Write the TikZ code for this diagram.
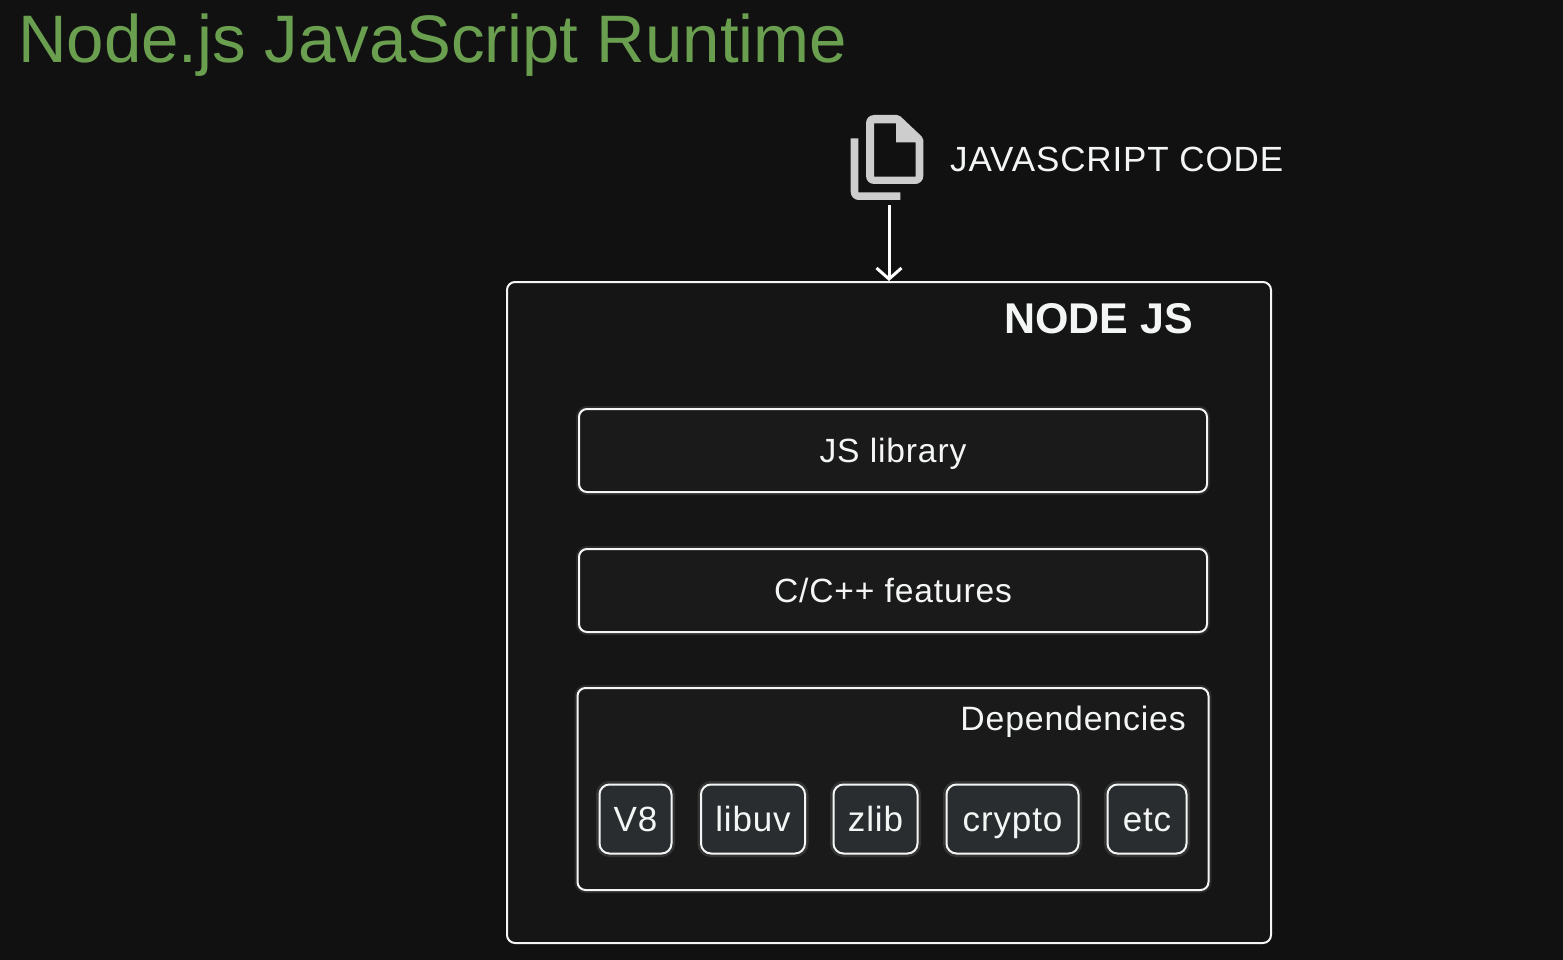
\documentclass[tikz,border=0pt]{standalone}
\usepackage{fontspec}
\setmainfont[LetterSpace=2.5]{Liberation Sans}
\newfontfamily\titlefont{Liberation Sans}
\usetikzlibrary{arrows.meta}
\definecolor{bgc}{HTML}{111111}
\definecolor{outerc}{HTML}{151515}
\definecolor{innerc}{HTML}{1A1A1B}
\definecolor{chipc}{HTML}{2A2D30}
\definecolor{linec}{HTML}{F4F6F6}
\definecolor{iconc}{HTML}{CDCDCD}
\definecolor{titlec}{HTML}{6A9F4F}
\tikzset{
 outerbox/.style={draw=linec,line width=2pt,fill=outerc,rounded corners=8pt},
 layerbox/.style={draw=linec,line width=2pt,fill=innerc,rounded corners=8pt,text=linec,font=\fontsize{33.6}{38}\selectfont,
   text height=23pt,text depth=0pt,
   preaction={draw=linec,draw opacity=.10,line width=6pt}},
 chipbox/.style={draw=linec,line width=2pt,fill=chipc,rounded corners=10pt,text=linec,font=\fontsize{35}{40}\selectfont,
   text height=24pt,text depth=0pt,
   preaction={draw=linec,draw opacity=.12,line width=7pt}},
 lbl/.style={text=linec,inner sep=0pt},
 flow/.style={draw=white,line width=3pt,-{Straight Barb[length=11pt,width=25pt,line width=3pt]}},
}
\begin{document}
\begin{tikzpicture}[x=1pt,y=-1pt]
\useasboundingbox[fill=bgc] (0,0) rectangle (1563,960);
\node[anchor=base west,inner sep=0pt,text=titlec,font=\titlefont\fontsize{67.2}{70}\selectfont] (title) at (18,63) {Node.js JavaScript Runtime};
% icon
\fill[iconc,even odd rule]
  [rounded corners=8pt] (866,150) -- (866,115) [rounded corners=2pt] -- (899,115) -- (923.3,138) [rounded corners=8pt] -- (923.3,184) -- (866,184) -- cycle
  [sharp corners] (874,123.3) -- (896,123.3) -- (896,142.5) -- (915.7,142.5) -- (915.7,176.7) -- (874,176.7) -- cycle;
\fill[iconc] (850.7,138.3) -- (858.3,138.3) -- (858.3,192.3) -- (900.3,192.3) -- (900.3,200) [rounded corners=8pt] -- (850.7,200) [sharp corners] -- cycle;
\node[minimum width=73pt,minimum height=85pt,inner sep=0pt] (icon) at (887.5,157.5) {};
\node[lbl,anchor=base west,font=\fontsize{35}{42}\selectfont] (jscode) at (950,172) {JAVASCRIPT CODE};
% boxes
\node[outerbox,minimum width=764pt,minimum height=661pt,inner sep=0pt] (nodejs) at (889,612.5) {};
\node[lbl,anchor=base east,font=\titlefont\bfseries\fontsize{43}{50}\selectfont] (nodelbl) at (1193,333) {NODE JS};
\node[layerbox,minimum width=628pt,minimum height=83pt,inner sep=0pt] (jslib) at (893,450.5) {JS library};
\node[layerbox,minimum width=628pt,minimum height=83pt,inner sep=0pt] (cfeat) at (893,590.5) {C/C++ features};
\node[layerbox,minimum width=631pt,minimum height=202pt,inner sep=0pt,text height=0pt] (deps) at (893,789) {};
\node[lbl,anchor=base east,font=\fontsize{33.8}{38}\selectfont] (depslbl) at (1186,730) {Dependencies};
\node[chipbox,minimum width=72pt,minimum height=69pt,inner sep=0pt] (v8) at (635.5,819) {V8};
\node[chipbox,minimum width=104pt,minimum height=69pt,inner sep=0pt] (libuv) at (753,819) {libuv};
\node[chipbox,minimum width=84pt,minimum height=69pt,inner sep=0pt] (zlib) at (875.5,819) {zlib};
\node[chipbox,minimum width=132pt,minimum height=69pt,inner sep=0pt] (crypto) at (1012.5,819) {crypto};
\node[chipbox,minimum width=79pt,minimum height=69pt,inner sep=0pt] (etc) at (1147,819) {etc};
\coordinate (codeout) at (889,205);
\draw[flow] (codeout) -- (codeout |- nodejs.north);
\end{tikzpicture}
\end{document}
